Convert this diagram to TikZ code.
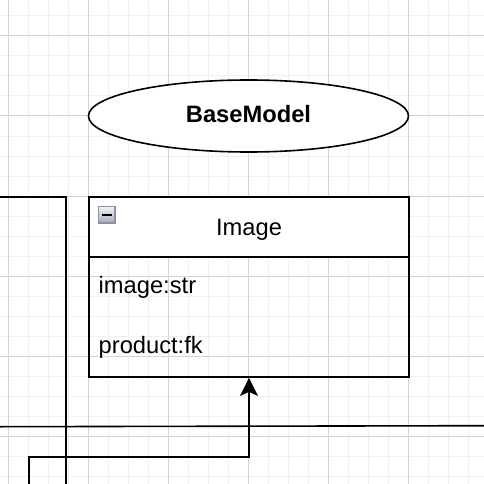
\documentclass[tikz,border=0pt]{standalone}
\usepackage{fontspec}
\setmainfont{Liberation Sans}
\usetikzlibrary{arrows.meta,shapes.geometric}
\definecolor{gridminor}{HTML}{F0F0F0}
\definecolor{gridmajor}{HTML}{D4D4D4}
\definecolor{iconborder}{HTML}{8A92A6}
\definecolor{icontop}{HTML}{F2F2F4}
\definecolor{iconbot}{HTML}{A8ABB4}
\tikzset{
  conn/.style={line width=1.6pt, draw=black},
  txt/.style={inner sep=0pt, font=\fontsize{23.7}{28}\selectfont},
}
\begin{document}
\begin{tikzpicture}[x=1pt,y=-1pt]
\useasboundingbox (0,0) rectangle (484,484);
\fill[white] (0,0) rectangle (484,484);
% grid
\foreach \i in {0,...,24} {
  \draw[gridminor, line width=1pt] ({8+20*\i},0) -- ({8+20*\i},484);
  \draw[gridminor, line width=1pt] (0,{-4+20*\i}) -- (484,{-4+20*\i});
}
\foreach \i in {0,...,6} {
  \draw[gridmajor, line width=1pt] ({8+80*\i},0) -- ({8+80*\i},484);
  \draw[gridmajor, line width=1pt] (0,{36+80*\i}) -- (484,{36+80*\i});
}
% connectors behind
\coordinate (l1a) at (0,197);
\coordinate (l1b) at (66,197);
\coordinate (l1c) at (66,484);
\draw[conn] (l1a) -- (l1b) -- (l1c);
\coordinate (l2a) at (0,426.7);
\coordinate (l2b) at (484,425.7);
\draw[conn] (l2a) -- (l2b);
% BaseModel ellipse
\node[ellipse, draw=black, fill=white, line width=1.6pt, minimum width=320pt, minimum height=72pt, inner sep=0pt] (base) at (248.5,116) {};
\node[txt, anchor=base, font=\fontsize{23.7}{28}\selectfont\bfseries] (basetxt) at (248.5,122.5) {BaseModel};
% Image class
\node[rectangle, draw=black, line width=1.8pt, minimum width=320pt, minimum height=180pt, inner sep=0pt] (image) at (249,287) {};
\fill[white] (89,197) rectangle (409,257);
\draw[black, line width=1.8pt] (89,197) rectangle (409,377);
\draw[black, line width=1.8pt] (89,257) -- (409,257);
% collapse icon
\shade[top color=icontop, bottom color=iconbot, draw=iconborder, line width=1.6pt] (98.5,206.5) rectangle (115,223);
\draw[black, line width=2pt] (101.5,214.7) -- (112,214.7);
\node[txt, anchor=base] (title) at (249,235) {Image};
\node[txt, anchor=base west] (attr1) at (98.5,293) {image:str};
\node[txt, anchor=base west] (attr2) at (98.5,353) {product:fk};
% arrow
\coordinate (a0) at (29,484);
\coordinate (a1) at (29,457);
\coordinate (a2) at (249,457);
\draw[conn, -{Stealth[length=18pt,width=18pt,inset=4pt]}] (a0) -- (a1) -- (a2) -- (image.south);
\end{tikzpicture}
\end{document}
